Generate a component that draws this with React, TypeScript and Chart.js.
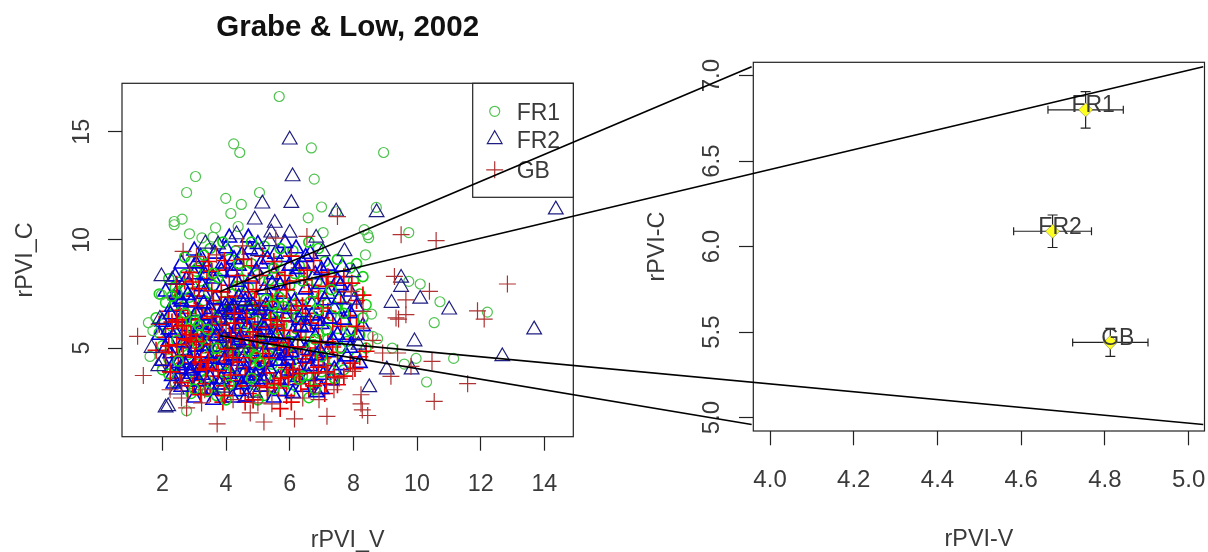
import React, { useEffect, useRef } from "react";
import { Chart, registerables } from "chart.js";
import { drawPoint } from "chart.js/helpers";

Chart.register(...registerables);

type Pt = [number, number];

const fr1Outer: Pt[] = [[5.67,16.63],[4.24,14.44],[4.43,14.04],[6.68,14.25],[3.04,12.93],[6.77,12.81],[2.76,12.19],[3.99,11.92],[4.48,11.64],[5.05,12.19],[4.15,11.22],[7.0,11.52],[6.58,11.02],[2.37,10.85],[2.37,10.7],[2.62,10.96],[2.85,10.28],[3.67,10.56],[4.38,10.62],[3.24,10.09],[3.59,10.13],[7.05,10.34],[8.95,14.04],[8.72,11.5],[7.46,11.3],[8.34,10.47],[8.45,10.24],[8.48,10.1],[8.38,9.31],[9.74,10.34],[9.74,8.08],[10.1,7.96],[10.72,7.14],[12.21,6.66],[10.54,6.17],[8.57,6.57],[8.61,5.54],[8.76,5.43],[9.22,5.0],[9.97,4.52],[9.6,4.26],[11.15,4.52],[10.3,3.43],[1.56,6.17],[1.7,5.8],[1.61,4.61],[1.97,7.46],[2.76,2.1]];
const fr1Core: Pt[] = [[2.9,9.0],[3.4,8.8],[4.1,9.1],[4.8,8.9],[5.6,9.0],[6.3,8.8],[7.1,9.0],[7.9,8.7],[2.2,8.2],[2.7,8.4],[3.2,8.1],[3.9,8.5],[4.4,8.2],[5.0,8.4],[5.7,8.2],[6.5,8.5],[7.3,8.3],[8.0,8.1],[1.9,7.5],[2.4,7.8],[3.0,7.6],[3.6,7.9],[4.2,7.5],[4.7,7.8],[5.4,7.6],[6.0,7.9],[6.8,7.6],[7.6,7.8],[8.2,7.5],[2.1,7.1],[2.6,6.9],[3.3,7.2],[3.8,6.9],[4.5,7.1],[5.1,6.9],[5.8,7.2],[6.4,7.0],[7.1,7.1],[7.8,6.9],[8.4,7.0],[1.8,6.4],[2.3,6.5],[2.9,6.3],[3.5,6.6],[4.0,6.3],[4.6,6.5],[5.3,6.3],[5.9,6.6],[6.6,6.3],[7.3,6.5],[8.0,6.2],[1.9,5.7],[2.5,5.9],[3.1,5.7],[3.7,5.9],[4.3,5.6],[4.9,5.8],[5.5,5.6],[6.2,5.9],[6.9,5.7],[7.5,5.9],[8.2,5.6],[2.0,5.1],[2.7,5.3],[3.3,5.0],[3.9,5.2],[4.4,5.0],[5.1,5.3],[5.7,5.0],[6.4,5.2],[7.1,5.0],[7.8,5.3],[8.4,5.0],[2.2,4.5],[2.8,4.7],[3.5,4.4],[4.1,4.6],[4.7,4.4],[5.3,4.7],[6.0,4.4],[6.7,4.6],[7.4,4.4],[8.1,4.6],[2.0,4.0],[2.6,4.0],[3.2,3.9],[3.8,4.1],[4.5,3.8],[5.0,4.0],[5.7,3.8],[6.3,4.1],[7.0,3.9],[7.7,4.0],[2.4,3.4],[3.0,3.5],[3.6,3.3],[4.2,3.5],[4.9,3.3],[5.5,3.5],[6.1,3.3],[6.8,3.4],[2.9,2.9],[3.7,2.8],[4.4,3.0],[5.2,2.8],[6.0,2.9],[6.6,2.7],[3.5,9.6],[4.3,9.5],[5.2,9.7],[6.1,9.5],[6.9,9.6],[2.5,7.3],[3.1,8.7],[4.6,6.0],[5.6,5.3],[6.1,6.8],[3.4,6.1],[2.8,5.5],[4.0,4.9],[5.9,4.1],[7.2,5.4],[7.0,7.4],[4.9,7.3],[3.7,7.4],[2.3,6.0],[6.5,4.9]];
const fr1Dense: Pt[] = [[2.35,6.95],[2.85,7.35],[3.15,6.75],[3.45,7.55],[3.65,6.35],[3.95,7.15],[4.15,6.65],[4.35,7.85],[4.75,6.85],[4.95,6.25],[5.25,7.25],[5.45,6.65],[5.75,6.05],[6.05,7.45],[6.25,6.45],[6.65,7.15],[2.45,5.35],[2.65,4.85],[2.95,5.85],[3.25,5.45],[3.55,4.95],[3.75,5.55],[4.05,5.25],[4.25,4.75],[4.55,5.75],[4.85,5.15],[5.15,5.65],[5.35,4.95],[5.65,5.85],[5.95,5.35],[6.35,5.65],[6.75,5.15],[7.15,5.85],[7.45,6.85],[2.75,3.65],[3.05,4.25],[3.35,3.55],[3.65,4.65],[3.95,3.85],[4.25,4.15],[4.65,3.35],[4.85,4.55],[5.25,3.65],[5.45,4.25],[5.85,3.45],[6.15,4.75],[6.55,3.75],[7.25,4.05],[2.55,8.05],[3.05,8.55],[3.75,8.25],[4.65,8.55],[5.35,8.15],[6.15,8.45],[6.85,8.05],[7.55,7.25]];
const fr1Fill: Pt[] = [[3.02,6.25],[3.14,6.05],[2.6,6.2],[2.72,6.6],[3.42,5.85],[5.66,7.35],[5.82,6.92],[5.48,7.02],[4.92,4.66],[5.06,4.32],[4.72,4.86],[2.3,7.4],[2.45,7.55],[3.6,8.45],[6.9,6.75],[7.6,5.0],[6.3,3.55],[4.1,3.3],[2.2,3.8],[2.5,4.4],[3.0,3.1],[3.4,3.0],[5.5,3.1],[6.4,3.7],[7.4,3.6],[7.9,5.8],[8.3,6.4],[7.7,6.6],[7.3,7.7],[6.4,8.1],[5.5,8.7],[4.4,8.9],[3.3,9.3],[2.7,9.2],[3.9,9.9],[4.8,9.9],[5.7,9.6],[6.6,9.9],[7.5,9.1],[8.1,8.9],[8.3,8.3],[7.0,4.6],[6.8,3.1],[5.0,2.6],[4.0,2.6],[4.8,3.6],[3.1,5.2],[3.7,5.0],[5.5,6.4],[6.8,5.4]];

const fr2Outer: Pt[] = [[6.0,14.63],[6.09,12.93],[5.14,11.67],[6.05,11.7],[7.46,11.3],[4.9,10.93],[5.53,10.78],[4.33,10.25],[6.0,10.32],[6.83,10.09],[3.35,9.82],[3.75,9.78],[5.0,9.47],[5.42,10.33],[5.37,9.93],[7.04,9.47],[7.72,9.47],[8.73,11.27],[14.36,11.4],[9.5,8.24],[9.5,7.82],[10.1,7.27],[9.2,7.08],[11.01,6.77],[13.68,5.85],[9.92,5.3],[12.68,4.61],[9.05,4.0],[9.83,4.0],[8.5,3.18],[8.16,5.15],[8.03,7.23],[8.0,8.5],[1.97,8.31],[2.31,8.16],[1.92,6.34],[1.66,5.0],[1.87,4.15],[2.18,2.3],[2.1,2.24],[2.45,3.07],[3.9,3.16],[4.9,2.93]];
const fr2Core: Pt[] = [[2.6,8.9],[3.2,9.2],[3.9,8.9],[4.5,9.3],[5.1,8.9],[5.8,9.2],[6.4,8.9],[7.2,8.8],[2.4,8.3],[3.0,8.4],[3.6,8.2],[4.2,8.5],[4.8,8.2],[5.5,8.4],[6.1,8.2],[6.8,8.4],[7.5,8.1],[2.1,7.6],[2.7,7.7],[3.3,7.5],[3.9,7.8],[4.6,7.5],[5.2,7.7],[5.8,7.5],[6.5,7.7],[7.2,7.5],[7.9,7.6],[2.3,6.9],[2.9,7.1],[3.5,6.8],[4.1,7.0],[4.7,6.8],[5.4,7.1],[6.0,6.8],[6.7,7.0],[7.4,6.8],[8.1,6.9],[2.0,6.2],[2.6,6.4],[3.2,6.1],[3.8,6.3],[4.4,6.1],[5.0,6.4],[5.6,6.1],[6.3,6.3],[7.0,6.1],[7.7,6.3],[8.3,6.0],[1.9,5.6],[2.4,5.7],[3.0,5.5],[3.6,5.7],[4.2,5.5],[4.8,5.7],[5.4,5.5],[6.1,5.7],[6.8,5.5],[7.5,5.6],[2.1,5.0],[2.7,4.9],[3.3,5.1],[3.9,4.8],[4.5,5.0],[5.2,4.8],[5.8,5.1],[6.5,4.9],[7.2,4.8],[7.9,5.0],[2.0,4.4],[2.5,4.3],[3.1,4.4],[3.7,4.2],[4.3,4.4],[4.9,4.2],[5.6,4.4],[6.2,4.2],[6.9,4.4],[7.6,4.2],[8.2,4.3],[2.3,3.7],[2.9,3.8],[3.5,3.6],[4.1,3.8],[4.7,3.6],[5.3,3.7],[6.0,3.5],[6.6,3.7],[7.3,3.5],[2.6,3.2],[3.2,3.1],[3.8,3.3],[4.4,3.0],[5.1,3.2],[5.7,3.0],[6.4,3.2],[7.0,3.1],[3.0,2.7],[3.6,2.6],[4.2,2.7],[5.5,2.7],[5.0,9.8],[4.0,9.6],[6.2,9.6],[2.8,6.0],[3.4,5.3],[4.6,6.6],[5.3,6.2],[3.1,6.7],[4.0,5.9],[5.0,5.2],[2.2,5.3],[6.0,5.0],[3.5,4.5],[4.6,3.9],[7.1,7.2],[5.7,7.9],[4.4,8.8],[3.4,8.7],[6.7,6.5],[7.8,5.5]];
const fr2Dense: Pt[] = [[2.55,7.25],[3.05,6.55],[3.25,7.85],[3.65,7.25],[3.85,6.65],[4.05,6.55],[4.25,6.85],[4.4,7.35],[4.55,6.35],[4.65,5.95],[4.85,6.95],[5.05,6.75],[5.2,5.85],[5.35,6.55],[5.6,6.85],[5.85,6.45],[6.15,7.15],[6.45,6.65],[6.85,6.25],[2.25,4.75],[2.65,5.25],[2.85,4.45],[3.15,5.75],[3.35,4.75],[3.45,5.85],[3.75,5.05],[3.95,5.45],[4.15,5.15],[4.15,4.65],[4.35,5.75],[4.55,4.55],[4.65,5.25],[4.85,4.85],[5.05,5.55],[5.25,4.35],[5.45,5.15],[5.65,4.75],[5.95,4.45],[6.25,5.25],[6.55,4.55],[6.95,4.85],[2.35,3.35],[2.75,3.45],[2.95,4.05],[3.25,3.75],[3.45,4.15],[3.85,3.55],[4.05,4.05],[4.35,3.65],[4.55,4.25],[4.85,3.45],[5.05,3.95],[5.35,4.05],[5.65,3.55],[5.95,3.95],[6.25,3.65],[6.65,4.15],[7.05,3.75],[2.75,8.15],[3.35,8.35],[3.85,8.55],[4.35,8.05],[4.95,8.55],[5.45,7.95],[6.25,8.65],[6.95,7.95],[7.55,7.25],[4.75,9.55],[5.55,9.35],[3.0,9.5],[6.65,9.35],[4.1,10.1]];
const fr2Fill: Pt[] = [[2.6,7.15],[2.8,7.45],[2.42,7.45],[4.15,6.75],[4.36,6.52],[3.98,6.92],[2.72,4.2],[2.88,3.95],[2.56,4.02],[4.7,3.56],[4.92,3.72],[4.5,3.32],[5.86,4.66],[6.05,4.8],[5.7,4.4],[3.6,6.05],[3.7,5.55],[3.3,7.05],[3.42,6.5],[4.6,7.15],[5.15,6.05],[5.25,6.95],[3.05,5.05],[3.95,4.45],[3.15,3.45],[6.55,5.95],[7.25,6.35],[5.15,3.55],[2.2,5.85],[2.25,6.55],[2.3,4.1],[3.55,3.05],[4.65,2.75],[6.1,2.9],[6.85,2.95],[7.4,4.0],[7.8,4.6],[8.1,5.6],[7.9,6.6],[7.6,7.9],[7.0,8.6],[6.0,8.8],[5.3,9.1],[4.25,9.1],[3.05,8.9],[3.65,9.35],[5.85,9.85],[4.7,10.1],[6.5,9.2],[7.65,8.75],[6.35,6.0],[6.85,4.65],[7.35,5.35],[5.6,5.6],[4.4,5.35],[3.2,4.1]];

const gbOuter: Pt[] = [[1.22,5.54],[1.4,3.73],[2.24,3.07],[2.6,2.69],[2.76,2.23],[3.23,2.46],[3.33,3.07],[3.72,1.49],[4.76,2.0],[5.19,1.58],[6.15,1.72],[7.17,1.84],[4.22,2.61],[5.0,2.46],[5.44,2.42],[6.41,2.69],[6.92,2.61],[7.39,3.07],[7.56,3.61],[7.15,3.84],[12.84,7.96],[9.5,10.24],[10.6,9.97],[9.29,8.31],[10.39,7.62],[9.65,7.23],[9.65,6.54],[9.34,6.39],[9.42,6.34],[11.9,6.72],[12.11,6.34],[8.3,6.69],[8.32,5.92],[8.61,5.35],[8.92,4.77],[9.39,4.77],[9.81,4.15],[10.47,4.38],[9.18,3.69],[11.59,3.35],[10.54,2.53],[8.24,2.84],[8.24,2.42],[8.28,2.14],[8.45,1.88],[7.98,3.92],[7.93,7.62],[6.54,10.16],[5.56,10.08],[2.65,9.47],[3.07,9.23],[3.7,9.31],[4.52,9.72],[7.5,11.08]];
const gbCore: Pt[] = [[3.3,8.8],[4.0,8.6],[4.8,8.8],[5.6,8.5],[6.3,8.7],[7.0,8.5],[7.7,8.3],[2.7,8.1],[3.4,8.2],[4.1,7.9],[4.7,8.1],[5.3,7.9],[6.0,8.1],[6.7,7.9],[7.4,8.0],[2.4,7.3],[3.0,7.4],[3.6,7.2],[4.3,7.4],[4.9,7.2],[5.6,7.4],[6.2,7.2],[6.9,7.3],[7.6,7.1],[8.1,7.2],[2.2,6.7],[2.8,6.6],[3.4,6.8],[4.0,6.6],[4.6,6.8],[5.2,6.6],[5.8,6.8],[6.5,6.6],[7.2,6.7],[7.9,6.5],[1.9,6.1],[2.5,6.2],[3.1,6.0],[3.7,6.2],[4.3,5.9],[4.9,6.1],[5.5,6.0],[6.2,6.2],[6.9,5.9],[7.6,6.0],[2.1,5.5],[2.7,5.6],[3.3,5.4],[3.9,5.6],[4.5,5.4],[5.1,5.6],[5.8,5.4],[6.5,5.5],[7.2,5.3],[8.0,5.4],[1.8,4.9],[2.3,4.8],[2.9,5.0],[3.6,4.8],[4.2,5.0],[4.8,4.8],[5.5,5.0],[6.1,4.8],[6.8,5.0],[7.5,4.8],[8.2,4.6],[2.1,4.2],[2.7,4.3],[3.4,4.1],[4.0,4.3],[4.6,4.1],[5.2,4.3],[5.9,4.1],[6.5,4.3],[7.2,4.2],[7.9,4.3],[2.4,3.6],[3.0,3.5],[3.6,3.7],[4.3,3.5],[4.9,3.7],[5.5,3.5],[6.2,3.7],[6.8,3.5],[7.5,3.3],[2.8,3.0],[3.5,2.9],[4.1,3.1],[4.7,2.9],[5.3,3.0],[5.9,2.8],[6.6,3.1],[7.1,2.9],[3.9,2.5],[4.6,2.5],[5.7,2.2],[2.9,6.3],[3.5,5.2],[4.1,5.7],[2.6,5.2],[3.2,4.6],[4.4,6.4],[5.0,4.4],[5.6,6.4],[3.8,7.0],[4.7,7.6],[2.5,4.6],[6.0,5.4],[7.0,6.4],[7.7,7.6],[6.4,4.5],[2.3,5.9],[3.0,5.5],[3.7,4.4],[4.4,4.7],[5.3,5.2],[6.6,7.6]];
const gbDense: Pt[] = [[2.55,6.75],[2.75,6.05],[3.05,6.95],[3.25,6.35],[3.45,5.75],[3.55,7.65],[3.85,6.05],[4.05,7.35],[4.25,6.15],[4.45,5.55],[4.65,6.35],[4.85,5.75],[5.05,6.95],[5.25,5.95],[5.45,7.15],[5.75,6.25],[6.05,6.75],[6.35,5.75],[6.65,6.15],[7.05,6.85],[7.35,6.15],[2.45,5.15],[2.65,4.65],[2.85,5.35],[3.05,4.25],[3.25,5.15],[3.45,4.45],[3.75,5.35],[3.95,4.65],[4.15,5.45],[4.35,4.35],[4.55,5.15],[4.75,4.55],[4.95,5.35],[5.15,4.75],[5.35,4.55],[5.65,5.25],[5.85,4.65],[6.25,5.05],[6.65,4.65],[7.05,4.55],[7.35,5.05],[2.55,3.85],[2.95,3.25],[3.15,3.95],[3.35,3.35],[3.75,3.95],[3.95,3.25],[4.15,3.75],[4.45,3.25],[4.65,3.75],[5.05,3.25],[5.25,3.85],[5.65,3.15],[5.95,3.65],[6.35,3.35],[6.75,3.85],[7.15,3.35],[2.95,8.05],[3.55,8.55],[4.35,8.35],[5.05,8.35],[5.85,8.35],[6.45,8.15],[7.15,7.85],[3.95,9.05],[5.15,9.25],[6.05,9.25],[6.75,9.05]];
const gbFill: Pt[] = [[2.9,5.62],[3.06,5.3],[2.74,5.42],[2.45,6.3],[2.62,6.02],[2.3,6.2],[3.2,4.35],[3.38,4.02],[3.02,4.58],[5.5,3.35],[5.72,3.6],[5.3,3.18],[5.6,6.08],[5.82,5.82],[5.4,6.3],[7.15,3.9],[7.4,3.65],[6.9,4.12],[6.1,4.0],[6.3,3.82],[4.05,4.95],[4.22,4.55],[3.55,6.45],[4.75,5.35],[6.95,5.25],[2.1,4.8],[2.2,5.1],[2.25,3.9],[2.6,3.4],[3.2,2.85],[3.95,2.8],[4.85,2.6],[6.05,2.5],[6.75,3.25],[7.7,3.7],[8.05,4.05],[8.4,4.85],[8.1,6.0],[8.3,7.45],[7.95,8.0],[7.2,8.3],[6.55,8.6],[5.5,9.0],[4.55,9.1],[3.45,9.0],[2.85,8.5],[2.45,7.95],[4.95,7.7],[5.9,7.7],[3.85,7.6],[3.15,7.75],[6.4,6.95],[5.95,5.05],[4.25,6.6]];

const legendLabels = ["FR1", "FR2", "GB"];
const groupX = [4.754, 4.675, 4.813];
const groupY = [6.8, 6.09, 5.44];
const groupErrX = [0.09, 0.093, 0.09];
const groupErrY = [0.107, 0.095, 0.082];

const leftXTicks = [2, 4, 6, 8, 10, 12, 14];
const leftYTicks = [5, 10, 15];
const rightXTicks = [4.0, 4.2, 4.4, 4.6, 4.8, 5.0];
const rightYTicks = [5.0, 5.5, 6.0, 6.5, 7.0];

const zoomBoxX = [4, 5];
const zoomBoxY = [5, 7];
const connectFromX = [3.8, 4.9];
const connectFromY = [7.6, 5.57];
const connectToX = [3.956, 5.035];
const connectToY = [7.052, 4.96];

const INK = "#222";
const TEXT = "#3a3a3a";
const FONT = "'Liberation Sans', Arial, sans-serif";
const MARKERS = [
  { color: "rgb(80,195,80)", bright: "rgb(20,210,20)", style: "circle", radius: 5 },
  { color: "rgb(30,30,130)", bright: "rgb(0,0,225)", style: "triangle", radius: 8.5 },
  { color: "rgb(175,50,50)", bright: "rgb(235,0,0)", style: "cross", radius: 8.5 },
];

const boxPlugin = {
  id: "plotBox",
  afterDraw(chart: any) {
    const { ctx, chartArea: a } = chart;
    ctx.save();
    ctx.strokeStyle = INK;
    ctx.lineWidth = 1.2;
    ctx.strokeRect(a.left, a.top, a.right - a.left, a.bottom - a.top);
    ctx.restore();
  },
};

const leftDecor = {
  id: "leftDecor",
  afterDraw(chart: any) {
    const { ctx, chartArea: a, scales } = chart;
    ctx.save();
    ctx.strokeStyle = "#222";
    ctx.lineWidth = 1.1;
    const x0 = scales.x.getPixelForValue(zoomBoxX[0]);
    const x1 = scales.x.getPixelForValue(zoomBoxX[1]);
    const y0 = scales.y.getPixelForValue(zoomBoxY[1]);
    const y1 = scales.y.getPixelForValue(zoomBoxY[0]);
    ctx.strokeRect(x0, y0, x1 - x0, y1 - y0);
    const w = 100.6;
    const h = 114;
    ctx.fillStyle = "#fff";
    ctx.fillRect(a.right - w, a.top, w, h);
    ctx.strokeStyle = INK;
    ctx.lineWidth = 1.2;
    ctx.strokeRect(a.right - w, a.top, w, h);
    const rows = [28, 56, 86.5];
    legendLabels.forEach((t, i) => {
      const m = MARKERS[i];
      ctx.strokeStyle = m.color;
      ctx.fillStyle = "transparent";
      ctx.lineWidth = 1.2;
      drawPoint(ctx, { pointStyle: m.style as any, radius: m.radius, rotation: 0, borderWidth: 1.2 }, a.right - w + 22, a.top + rows[i]);
      ctx.fillStyle = TEXT;
      ctx.font = `23px ${FONT}`;
      ctx.textAlign = "left";
      ctx.textBaseline = "middle";
      ctx.fillText(t, a.right - w + 44, a.top + rows[i] + 2);
    });
    ctx.restore();
  },
};

const rightDecor = {
  id: "rightDecor",
  beforeDatasetsDraw(chart: any) {
    const { ctx, scales } = chart;
    ctx.save();
    ctx.strokeStyle = "#222";
    ctx.lineWidth = 1.2;
    const cap = 5;
    groupX.forEach((v, i) => {
      const x = scales.x.getPixelForValue(v);
      const y = scales.y.getPixelForValue(groupY[i]);
      const xa = scales.x.getPixelForValue(v - groupErrX[i]);
      const xb = scales.x.getPixelForValue(v + groupErrX[i]);
      const ya = scales.y.getPixelForValue(groupY[i] + groupErrY[i]);
      const yb = scales.y.getPixelForValue(groupY[i] - groupErrY[i]);
      ctx.beginPath();
      ctx.moveTo(xa, y); ctx.lineTo(xb, y);
      ctx.moveTo(xa, y - cap + 1); ctx.lineTo(xa, y + cap - 1);
      ctx.moveTo(xb, y - cap + 1); ctx.lineTo(xb, y + cap - 1);
      ctx.moveTo(x, ya); ctx.lineTo(x, yb);
      ctx.moveTo(x - cap, ya); ctx.lineTo(x + cap, ya);
      ctx.moveTo(x - cap, yb); ctx.lineTo(x + cap, yb);
      ctx.stroke();
    });
    ctx.restore();
  },
  afterDatasetsDraw(chart: any) {
    const { ctx, scales } = chart;
    ctx.save();
    ctx.fillStyle = TEXT;
    ctx.font = `23px ${FONT}`;
    ctx.textAlign = "center";
    ctx.textBaseline = "middle";
    legendLabels.forEach((t, i) => {
      ctx.fillText(t, scales.x.getPixelForValue(groupX[i]) + 7.5, scales.y.getPixelForValue(groupY[i]) - 4);
    });
    ctx.restore();
  },
};

function axis(opts: any) {
  const { ticks, min, max, tl, pad, size, title, titlePad, isY, fmt, font } = opts;
  return {
    type: "linear",
    min,
    max,
    position: isY ? "left" : "bottom",
    afterBuildTicks(s: any) {
      s.ticks = ticks.map((value: number) => ({ value }));
    },
    afterFit(s: any) {
      if (isY) s.width = size;
      else s.height = size;
      s.paddingLeft = 0;
      s.paddingRight = 0;
      s.paddingTop = 0;
      s.paddingBottom = 0;
    },
    grid: { drawOnChartArea: false, drawTicks: true, tickLength: tl, tickColor: INK, tickWidth: 1.2 },
    border: { display: false },
    ticks: {
      color: TEXT,
      font: { family: FONT, size: font },
      padding: pad,
      autoSkip: false,
      includeBounds: false,
      ...(isY ? { minRotation: 90, maxRotation: 90, crossAlign: "center" } : { maxRotation: 0 }),
      callback: (v: number) => (fmt ? v.toFixed(1) : String(v)),
    },
    title: {
      display: true,
      text: title,
      color: TEXT,
      font: { family: FONT, size: 23.3, lineHeight: 1.2 },
      padding: titlePad,
    },
  };
}

export default function App() {
  const leftRef = useRef<HTMLCanvasElement>(null);
  const rightRef = useRef<HTMLCanvasElement>(null);
  const overRef = useRef<HTMLCanvasElement>(null);

  useEffect(() => {
    // painted in this sequence, so that the three colours interleave in the crowded centre
    const layers: { pts: Pt[]; m: number; w: number; bright: boolean }[] = [
      { pts: fr1Core, m: 0, w: 1.5, bright: true },
      { pts: gbCore, m: 2, w: 1.6, bright: true },
      { pts: fr2Core, m: 1, w: 1.6, bright: true },
      { pts: fr1Dense, m: 0, w: 1.6, bright: true },
      { pts: fr2Dense, m: 1, w: 1.6, bright: true },
      { pts: gbDense, m: 2, w: 1.6, bright: true },
      { pts: fr2Fill, m: 1, w: 1.7, bright: true },
      { pts: fr1Fill, m: 0, w: 1.7, bright: true },
      { pts: gbFill, m: 2, w: 1.7, bright: true },
      { pts: fr1Outer, m: 0, w: 1.2, bright: false },
      { pts: fr2Outer, m: 1, w: 1.2, bright: false },
      { pts: gbOuter, m: 2, w: 1.2, bright: false },
    ];
    const left = new Chart(leftRef.current!, {
      type: "scatter",
      data: {
        datasets: layers.map((l, i) => ({
          label: legendLabels[l.m],
          data: l.pts.map(([x, y]) => ({ x, y })),
          order: layers.length - i,
          pointStyle: MARKERS[l.m].style,
          pointRadius: MARKERS[l.m].radius,
          pointBorderColor: l.bright ? MARKERS[l.m].bright : MARKERS[l.m].color,
          pointBackgroundColor: "transparent",
          pointBorderWidth: l.w,
          clip: false,
        })),
      } as any,
      options: {
        animation: false,
        responsive: false,
        devicePixelRatio: 1,
        layout: { padding: { left: 0, right: 66.7, top: 0, bottom: 0 } },
        plugins: {
          legend: { display: false },
          tooltip: { enabled: false },
          title: {
            display: true,
            text: "Grabe & Low, 2002",
            fullSize: false,
            color: "#111",
            font: { family: FONT, size: 29.5, weight: "bold", lineHeight: 1.2 },
            padding: { top: 10.5, bottom: 37.4 },
          },
        },
        scales: {
          x: axis({ ticks: leftXTicks, min: 0.73, max: 14.91, tl: 14, pad: 20, size: 115.3, title: "rPVI_V", titlePad: { top: 0, bottom: -3 }, font: 23.3 }),
          y: axis({ ticks: leftYTicks, min: 0.9, max: 17.24, tl: 14, pad: 12, size: 122, title: "rPVI_C", titlePad: { top: 11.2, bottom: 0 }, isY: true, font: 23.3 }),
        },
      } as any,
      plugins: [boxPlugin, leftDecor],
    });

    const right = new Chart(rightRef.current!, {
      type: "scatter",
      data: {
        datasets: [
          {
            data: groupX.map((x, i) => ({ x, y: groupY[i] })),
            pointStyle: "rectRot",
            pointRadius: 7,
            pointBackgroundColor: "#ffff20",
            pointBorderColor: "#666",
            pointBorderWidth: 0.5,
          },
        ],
      } as any,
      options: {
        animation: false,
        responsive: false,
        devicePixelRatio: 1,
        layout: { padding: { left: 0, right: 3, top: 62.3, bottom: 0 } },
        plugins: { legend: { display: false }, tooltip: { enabled: false } },
        scales: {
          x: axis({ ticks: rightXTicks, min: 3.96, max: 5.038, tl: 14.3, pad: 20.5, size: 121, title: "rPVI-V", titlePad: { top: 0, bottom: -2 }, fmt: true, font: 24 }),
          y: axis({ ticks: rightYTicks, min: 4.922, max: 7.078, tl: 14.3, pad: 9.5, size: 113.3, title: "rPVI-C", titlePad: { top: 3.2, bottom: 0 }, isY: true, fmt: true, font: 24 }),
        },
      } as any,
      plugins: [boxPlugin, rightDecor],
    });

    const offset = 640;
    const segs = [
      [0, 0],
      [1, 0],
      [0, 1],
      [1, 1],
    ];
    const over = new Chart(overRef.current!, {
      type: "scatter",
      data: {
        datasets: segs.map(([a, b]) => ({
          data: [
            { x: left.scales.x.getPixelForValue(connectFromX[a]), y: left.scales.y.getPixelForValue(connectFromY[b]) },
            { x: right.scales.x.getPixelForValue(connectToX[a]) + offset, y: right.scales.y.getPixelForValue(connectToY[b]) },
          ],
          showLine: true,
          borderColor: "#000",
          borderWidth: 1.7,
          pointRadius: 0,
        })),
      } as any,
      options: {
        animation: false,
        responsive: false,
        devicePixelRatio: 1,
        plugins: { legend: { display: false }, tooltip: { enabled: false } },
        scales: {
          x: { type: "linear", min: 0, max: 1208, display: false },
          y: { type: "linear", min: 0, max: 552, reverse: true, display: false },
        },
      } as any,
    });

    return () => {
      over.destroy();
      right.destroy();
      left.destroy();
    };
  }, []);

  const layer = (l: number): React.CSSProperties => ({ position: "absolute", left: l, top: 0, display: "block" });
  return (
    <div style={{ position: "absolute", left: 0, top: 0, width: 1208, height: 552, background: "#fff", overflow: "hidden", filter: "blur(0.35px)" }}>
      <canvas ref={leftRef} width={640} height={552} style={layer(0)} />
      <canvas ref={rightRef} width={572} height={552} style={layer(640)} />
      <canvas ref={overRef} width={1208} height={552} style={layer(0)} />
    </div>
  );
}
